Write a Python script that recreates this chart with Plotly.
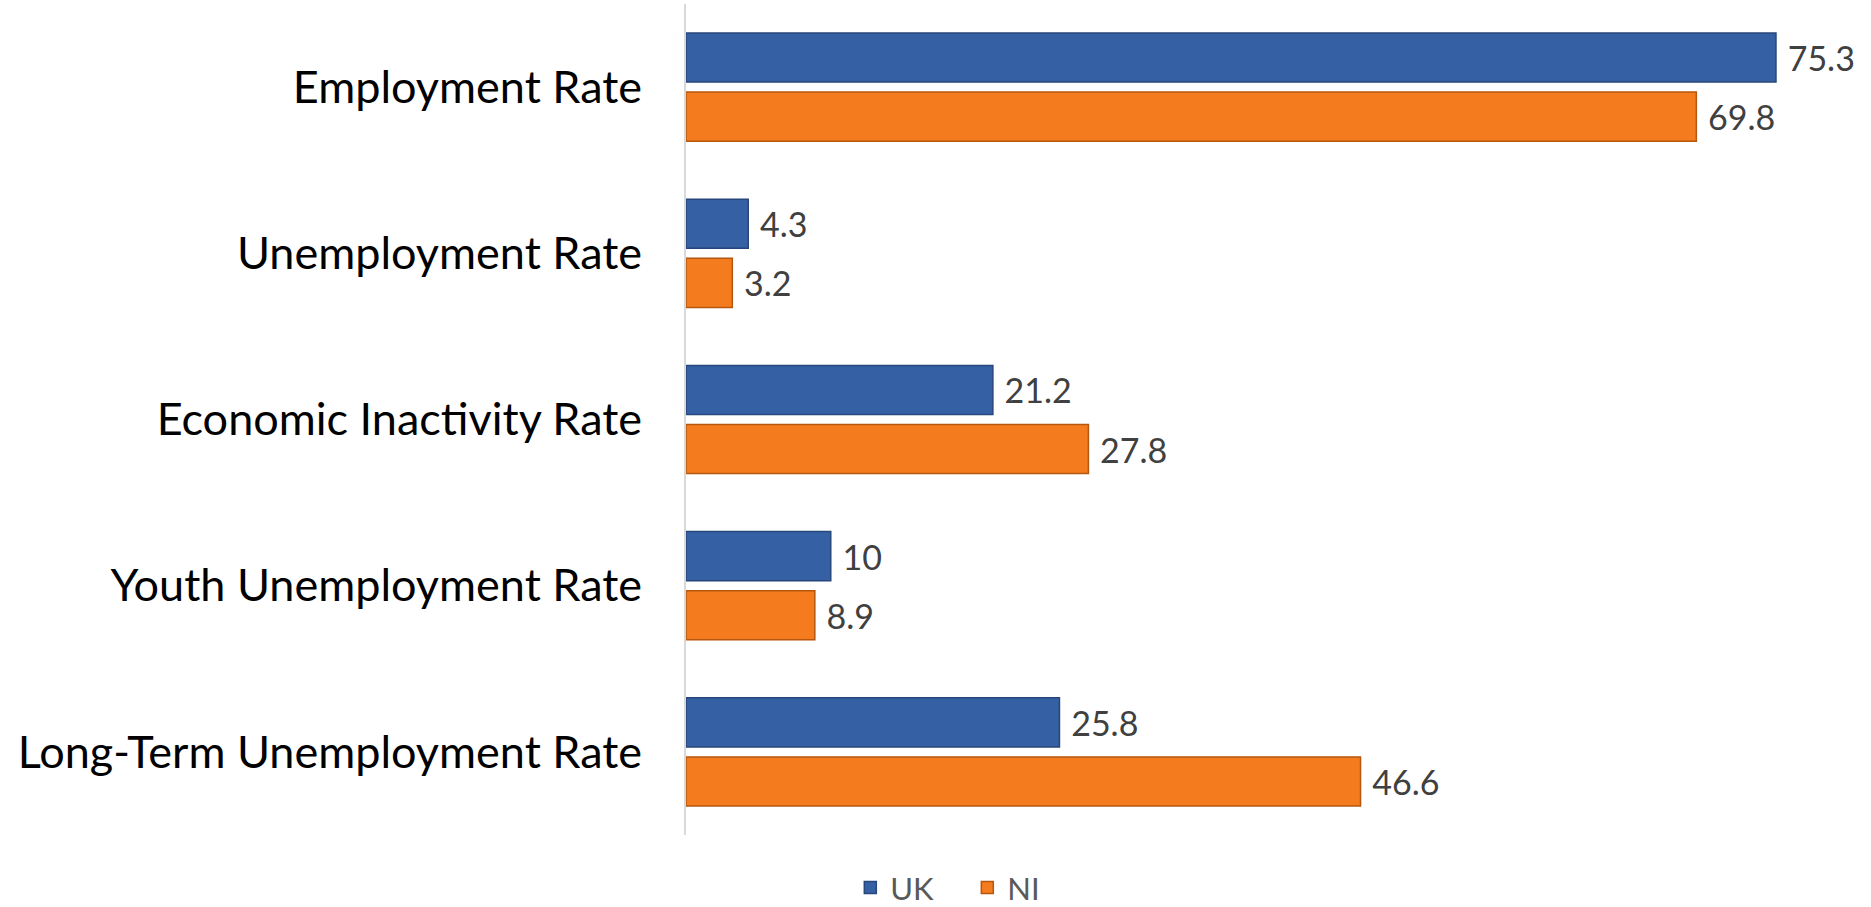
import plotly.graph_objects as go

# Labour market indicators (%), UK vs Northern Ireland
categories = [
    "Employment Rate",
    "Unemployment Rate",
    "Economic Inactivity Rate",
    "Youth Unemployment Rate",
    "Long-Term Unemployment Rate",
]
uk_values = [75.3, 4.3, 21.2, 10, 25.8]
ni_values = [69.8, 3.2, 27.8, 8.9, 46.6]

FONT = "Lato, Calibri, Carlito, sans-serif"

fig = go.Figure()
fig.add_trace(go.Bar(
    name="UK", y=categories, x=uk_values, orientation="h",
    marker=dict(color="#3560A3", line=dict(color="#27477C", width=1.5)),
    texttemplate="\u00a0%{x}", textposition="outside",
    textfont=dict(family=FONT, size=34, color="#404040"),
    cliponaxis=False, constraintext="none",
))
fig.add_trace(go.Bar(
    name="NI", y=categories, x=ni_values, orientation="h",
    marker=dict(color="#F57C1E", line=dict(color="#B5570F", width=1.5)),
    texttemplate="\u00a0%{x}", textposition="outside",
    textfont=dict(family=FONT, size=34, color="#404040"),
    cliponaxis=False, constraintext="none",
))

fig.update_layout(
    width=1871, height=907,
    margin=dict(l=686, r=27, t=4, b=72),
    barmode="group", bargap=0.289, bargroupgap=0.169,
    plot_bgcolor="white", paper_bgcolor="white",
    font=dict(family=FONT),
    showlegend=True,
    legend=dict(
        orientation="h", xref="container", x=0.517, xanchor="center",
        yref="container", y=0.021, yanchor="middle",
        font=dict(family=FONT, size=31, color="#595959"),
        itemwidth=30, entrywidth=72, traceorder="normal",
    ),
    xaxis=dict(range=[0, 80], visible=False, showgrid=False, zeroline=False),
    yaxis=dict(
        autorange="reversed", showgrid=False, zeroline=False,
        showline=True, linecolor="#D9D9D9", linewidth=2,
        ticks="", ticklabelstandoff=33,
        tickfont=dict(family=FONT, size=45, color="#000000"),
    ),
)

fig.write_html("out.html")
